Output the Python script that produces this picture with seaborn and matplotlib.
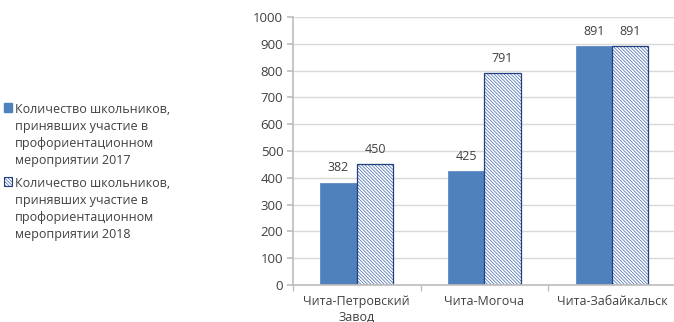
import matplotlib
matplotlib.use("Agg")
import matplotlib.pyplot as plt
import seaborn as sns
import pandas as pd
from matplotlib.colors import to_rgba
from matplotlib.ticker import FixedLocator

routes = ["Чита-Петровский\nЗавод", "Чита-Могоча", "Чита-Забайкальск"]
series = [
    "Количество школьников,\nпринявших участие в\nпрофориентационном\nмероприятии 2017",
    "Количество школьников,\nпринявших участие в\nпрофориентационном\nмероприятии 2018",
]
values_2017 = [382, 425, 891]
values_2018 = [450, 791, 891]

df = pd.DataFrame({
    "route": routes * 2,
    "series": [series[0]] * 3 + [series[1]] * 3,
    "value": values_2017 + values_2018,
})

sns.set_theme(style="white")
plt.rcParams["font.family"] = ["Open Sans", "DejaVu Sans"]
plt.rcParams["hatch.linewidth"] = 0.5

fig = plt.figure(figsize=(6.74, 3.22), dpi=100)
ax = fig.add_axes([0.4347, 0.115, 0.568, 0.832])

blue = "#4F81BD"
navy = "#1F3F80"
hatch_blue = "#3F66AE"
hatch = "\\" * 10


def style_hatched(p):
    p.set_facecolor("white")
    p.set_edgecolor(navy)
    p.set_hatch(hatch)
    if hasattr(p, "set_hatchcolor"):
        p.set_hatchcolor(hatch_blue)
    else:
        p._hatch_color = to_rgba(hatch_blue)


sns.barplot(data=df, x="route", y="value", hue="series", hue_order=series,
            palette=[blue, "white"], width=0.57, saturation=1, gap=0,
            ax=ax, legend=False)

for p in ax.containers[0]:
    p.set_edgecolor(blue)
    p.set_linewidth(0.5)
for p in ax.containers[1]:
    style_hatched(p)
    p.set_linewidth(0.9)

for cont in ax.containers:
    ax.bar_label(cont, labels=[str(int(v)) for v in cont.datavalues], padding=6,
                 fontsize=9, color="#404040")

ax.set_ylim(0, 1000)
ax.set_xlim(-0.5, 2.5)
ax.set_yticks(range(0, 1001, 100))
ax.yaxis.grid(True, color="#D9D9D9", linewidth=1)
ax.set_axisbelow(True)
ax.set_xlabel("")
ax.set_ylabel("")
for s in ["top", "right"]:
    ax.spines[s].set_visible(False)
ax.spines["left"].set_color("#BFBFBF")
ax.spines["bottom"].set_color("#BFBFBF")
ax.tick_params(axis="y", labelsize=9.5, labelcolor="#404040", left=True, length=4,
               color="#BFBFBF", pad=3)
ax.tick_params(axis="x", which="major", labelsize=9, labelcolor="#404040",
               bottom=False, length=0, pad=7)
for t in ax.get_xticklabels():
    t.set_linespacing(1.35)
ax.xaxis.set_minor_locator(FixedLocator([-0.5, 0.5, 1.5, 2.5]))
ax.tick_params(axis="x", which="minor", bottom=True, length=4, color="#BFBFBF")

h1 = plt.Rectangle((0, 0), 1, 1, facecolor=blue, edgecolor=blue)
h2 = plt.Rectangle((0, 0), 1, 1, linewidth=0.8)
style_hatched(h2)
leg = fig.legend([h1, h2], series, loc="center left", bbox_to_anchor=(0.0, 0.466),
                 frameon=False, fontsize=9, handlelength=0.65, handleheight=0.65,
                 handletextpad=0.25, labelspacing=0.85, borderaxespad=0, borderpad=0.3,
                 labelcolor="#404040")
for t in leg.get_texts():
    t.set_linespacing(1.38)
# Put each legend swatch next to the first line of its label
for column in leg._legend_handle_box.get_children():
    for item in column.get_children():
        item.align = "top"

fig.savefig("out.png", dpi=100)
